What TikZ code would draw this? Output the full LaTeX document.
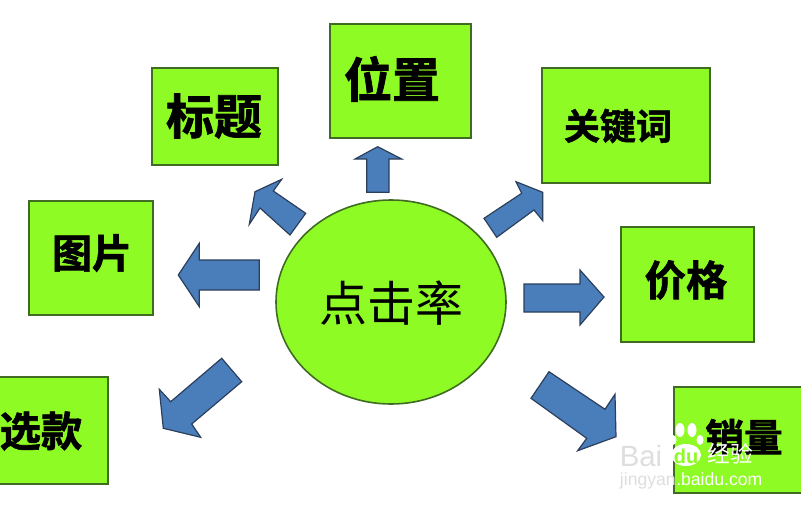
\documentclass[tikz,border=0pt]{standalone}
\usepackage{fontspec}
\newfontfamily\cjk{Noto Sans CJK SC}
\newfontfamily\cjkbold[FakeBold=1.5]{Noto Sans CJK SC Bold}
\setmainfont{Liberation Sans}
\definecolor{boxgreen}{HTML}{8FFB24}
\definecolor{boxedge}{HTML}{3F6B22}
\definecolor{arrowblue}{HTML}{4A7EBB}
\definecolor{arrowedge}{HTML}{2B3F5C}
\tikzset{
  box/.style={draw=boxedge, line width=1.2pt, fill=boxgreen},
  boxlabel/.style={font=\cjkbold, text=black, inner sep=0pt},
  blockarrow/.style={draw=arrowedge, line width=0.9pt, fill=arrowblue, line join=miter},
  urltext/.style={font=\fontsize{13.2}{13.2}\selectfont, inner sep=0pt},
}
\begin{document}
\begin{tikzpicture}[x=0.75pt, y=-0.75pt]
  \useasboundingbox (0,0) rectangle (801,507);
  % boxes
  \draw[box] (152,68) rectangle (278,165);
  \draw[box] (330,24) rectangle (471,138);
  \draw[box] (542,68) rectangle (710,183);
  \draw[box] (29,201) rectangle (153,315);
  \draw[box] (621,227) rectangle (754,342);
  \draw[box] (-5,377) rectangle (108,484);
  \draw[box] (674,387) rectangle (806,493);
  \draw[box] (391,302) ellipse (115 and 102);
  % labels
  \node[boxlabel, font=\cjkbold\fontsize{36}{36}\selectfont] (title) at (214,116) {标题};
  \node[boxlabel, font=\cjkbold\fontsize{36}{36}\selectfont] (place) at (392,79) {位置};
  \node[boxlabel, font=\cjkbold\fontsize{27}{27}\selectfont] (keyword) at (618,126) {关键词};
  \node[boxlabel, font=\cjkbold\fontsize{30}{30}\selectfont] (image) at (92,253) {图片};
  \node[boxlabel, font=\cjkbold\fontsize{31}{31}\selectfont] (price) at (686,280) {价格};
  \node[boxlabel, font=\cjkbold\fontsize{31}{31}\selectfont] (pick) at (41,431) {选款};
  \node[boxlabel, font=\cjkbold\fontsize{29}{29}\selectfont] (sales) at (744,437) {销量};
  \node[font=\cjk\fontsize{36}{36}\selectfont, inner sep=0pt] (ctr) at (391,303) {点击率};
  % arrows
  \draw[blockarrow] (366.7,192.3) -- (366.7,159) -- (355,159) -- (377.7,146.7) -- (401.7,159) -- (389,159) -- (389,192.3) -- cycle;
  \draw[blockarrow] (305.7,213.3) -- (273.3,191) -- (281.7,179.3) -- (255,191.7) -- (249.3,224.3) -- (260,208) -- (290,235) -- cycle;
  \draw[blockarrow] (484,218.3) -- (521.7,193.3) -- (516,181.7) -- (542.7,192.3) -- (542.7,220.7) -- (534,210) -- (496.7,237.3) -- cycle;
  \draw[blockarrow] (524,284) -- (580,284) -- (580,270) -- (604,297) -- (580,325) -- (580,312) -- (524,312) -- cycle;
  \draw[blockarrow] (259.3,260) -- (199.3,260) -- (199.3,243.3) -- (178.3,275) -- (199.3,306.7) -- (199.3,290) -- (259.3,290) -- cycle;
  \draw[blockarrow] (221.7,358.3) -- (241.7,381.7) -- (191.7,424) -- (200.7,437.3) -- (163.3,428.3) -- (159.3,389.3) -- (170.7,401.7) -- cycle;
  \draw[blockarrow] (549,371.7) -- (605,409.3) -- (615,394.3) -- (616,436.7) -- (577.7,450.7) -- (586.7,438.3) -- (531,398.3) -- cycle;
  % watermark
  \node[font=\fontsize{22}{22}\selectfont, text=black!13, inner sep=0pt] (wmbai) at (641,456) {Bai};
  \node[font=\cjk\fontsize{17}{17}\selectfont, text=white, inner sep=0pt] (wmjy) at (730,454) {经验};
  \node[urltext, text=black!13, anchor=base east] (wmjing) at (676,485) {jingyan};
  \node[urltext, text=white, anchor=base west] (wmurl) at (676,485) {.baidu.com};
  \fill[white] (680,430) ellipse (4.5 and 7);
  \fill[white] (692,430) ellipse (4.5 and 7);
  \fill[white] (673,440) ellipse (3.5 and 5);
  \fill[white] (700,440) ellipse (3.5 and 5);
  \fill[white] (686,455) ellipse (15 and 11);
  \node[font=\bfseries\fontsize{15}{15}\selectfont, text=boxgreen, inner sep=0pt] (wmdu) at (686,456) {du};
\end{tikzpicture}
\end{document}
